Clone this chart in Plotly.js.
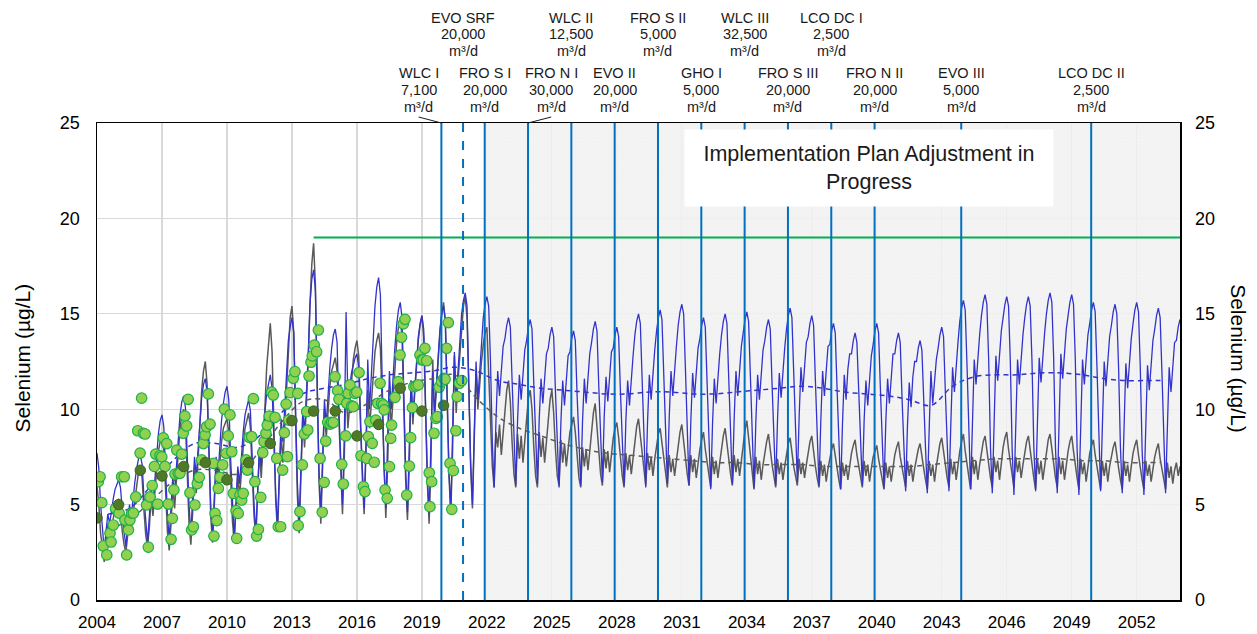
<!DOCTYPE html>
<html>
<head>
<meta charset="utf-8">
<script src="https://cdn.plot.ly/plotly-3.0.1.min.js"></script>
<style>
html,body{margin:0;padding:0;background:#fff;}
#chart{width:1257px;height:634px;}
</style>
</head>
<body>
<div id="chart"></div>
<script>
// ---------------- DATA ----------------
// Implementation plan milestones
const implNames = ['WLC I','EVO SRF','FRO S I','FRO N I','WLC II','EVO II','FRO S II','GHO I','WLC III','FRO S III','LCO DC I','FRO N II','EVO III','LCO DC II'];
const implFlows = ['7,100','20,000','20,000','30,000','12,500','20,000','5,000','5,000','32,500','20,000','2,500','20,000','5,000','2,500'];
const implYears = [2019.9, 2020.9, 2021.9, 2023.9, 2025.9, 2027.9, 2029.9, 2031.9, 2033.9, 2035.9, 2037.9, 2039.9, 2043.9, 2049.9];
const implUnit = 'm³/d';

const xTickVals = [2004,2007,2010,2013,2016,2019,2022,2025,2028,2031,2034,2037,2040,2043,2046,2049,2052];
const xTickText = ['2004','2007','2010','2013','2016','2019','2022','2025','2028','2031','2034','2037','2040','2043','2046','2049','2052'];
const yTickVals = [0,5,10,15,20,25];

// Benchmark line
const targetX = [2014, 2054];
const targetY = [19, 19];

// Monthly modelled series, starting Jan 2004 (one value per month)
const blueMonthly = [
7.7,6.9,5.0,3.8,2.6,3.6,4.5,4.0,4.8,5.3,5.8,6.1,
6.3,5.9,4.6,3.6,2.8,4.0,5.0,4.4,5.4,6.2,6.9,7.4,
7.6,7.1,5.4,4.0,3.0,4.4,5.8,5.0,6.3,7.6,8.7,9.4,
9.7,9.1,6.6,4.5,3.2,4.8,6.5,5.6,7.0,8.5,9.7,10.4,
10.7,10.1,7.4,5.0,3.4,5.4,7.5,6.5,8.0,9.5,10.6,11.3,
11.6,10.9,7.9,5.0,3.3,5.4,7.5,6.5,8.0,9.4,10.3,10.9,
11.2,10.5,7.5,4.8,3.2,5.1,7.0,6.1,7.5,8.8,9.7,10.2,
10.5,9.9,7.2,5.0,3.5,5.8,8.0,7.0,8.5,9.8,10.8,11.4,
11.8,11.1,8.2,5.6,3.8,6.6,9.5,8.3,10.0,11.8,13.6,14.3,
14.8,14.0,10.0,6.2,4.0,7.0,10.0,8.8,10.6,12.8,15.5,16.8,
17.3,16.2,11.5,6.8,4.5,7.5,10.5,9.2,11.0,12.2,13.2,13.9,
14.2,13.5,10.0,7.0,5.0,8.5,15.1,10.5,11.2,11.9,12.3,12.7,
12.9,12.2,9.0,6.5,4.8,8.0,12.6,10.0,11.8,13.6,15.4,16.4,
16.9,16.0,11.5,7.0,4.8,8.0,12.0,10.0,11.8,13.2,14.4,15.2,
15.6,14.8,10.8,6.8,4.6,7.6,11.5,9.6,11.2,12.6,13.8,14.5,
14.9,14.2,10.5,6.6,4.5,7.8,12.0,9.8,11.5,13.0,14.2,15.0,
15.4,14.7,10.8,6.8,4.6,8.2,13.0,10.5,12.2,13.6,15.0,15.7,
16.1,15.4,11.5,7.2,5.0,8.4,12.5,10.5,12.0,13.4,14.8,15.5,
15.9,15.4,12.5,8.3,5.9,9.3,12.0,10.7,12.3,13.3,13.7,14.4,
14.8,14.3,11.4,8.4,6.0,9.4,11.8,10.5,12.1,13.1,13.6,14.3,
14.7,14.2,11.3,8.5,6.1,9.5,11.6,10.3,11.9,12.9,13.2,13.9,
14.3,13.8,10.9,8.3,5.9,9.3,11.5,10.2,11.8,12.8,13.0,13.7,
14.1,13.6,10.7,8.4,6.0,9.4,11.6,10.3,11.9,12.9,13.5,14.2,
14.6,14.1,11.2,8.6,6.2,9.6,11.7,10.4,12.0,13.0,13.2,13.9,
14.3,13.8,10.9,8.4,6.0,9.4,11.5,10.2,11.8,12.8,13.9,14.6,
15.0,14.5,11.6,8.3,5.9,9.3,11.8,10.5,12.1,13.1,14.1,14.8,
15.2,14.7,11.8,8.5,6.1,9.5,12.0,10.7,12.3,13.3,14.4,15.1,
15.5,15.0,12.1,8.4,6.0,9.4,11.9,10.6,12.2,13.2,13.7,14.4,
14.8,14.3,11.4,8.2,5.8,9.2,11.6,10.3,11.9,12.9,13.9,14.6,
15.0,14.5,11.6,8.5,6.1,9.5,12.0,10.7,12.3,13.3,14.0,14.7,
15.1,14.6,11.7,8.3,5.9,9.3,11.8,10.5,12.1,13.1,13.6,14.3,
14.7,14.2,11.3,8.4,6.0,9.4,11.9,10.6,12.2,13.2,14.2,14.9,
15.3,14.8,11.9,8.6,6.2,9.6,12.2,10.9,12.5,13.5,13.8,14.5,
14.9,14.4,11.5,8.4,6.0,9.4,12.0,10.7,12.3,13.3,13.4,14.1,
14.5,14.0,11.1,8.2,5.8,9.2,11.8,10.5,12.1,12.9,12.9,13.6,
14.0,13.5,10.6,8.4,6.0,9.4,11.5,10.2,11.8,12.8,13.4,14.1,
14.5,14.0,11.1,8.3,5.9,9.3,11.6,10.3,11.9,12.9,12.9,13.6,
14.0,13.5,10.6,8.1,5.7,9.1,11.4,10.1,11.7,12.5,12.5,13.2,
13.6,13.1,10.2,8.0,5.6,9.0,12.0,10.3,11.5,12.6,13.2,13.9,
14.3,13.8,10.9,8.1,5.7,9.1,12.2,10.9,12.5,13.5,14.6,15.3,
15.7,15.2,12.3,8.2,5.8,9.2,12.6,11.3,12.9,13.9,14.9,15.6,
16.0,15.5,12.6,8.0,5.6,9.0,12.8,11.5,13.1,14.1,14.8,15.5,
15.9,15.4,12.5,7.9,5.5,8.9,12.6,11.3,12.9,13.9,14.8,15.5,
15.9,15.4,12.5,8.1,5.7,9.1,12.7,11.4,13.0,14.0,15.0,15.7,
16.1,15.6,12.7,8.0,5.6,9.0,12.9,11.6,13.2,14.2,14.9,15.6,
16.0,15.5,12.6,7.9,5.5,8.9,12.6,11.3,12.9,13.9,14.5,15.2,
15.6,15.1,12.2,8.1,5.7,9.1,12.5,11.2,12.8,13.8,14.4,15.1,
15.5,15.0,12.1,8.0,5.6,9.0,12.4,11.1,12.7,13.7,14.5,15.2,
15.6,15.1,12.2,7.9,5.5,8.9,12.3,11.0,12.6,13.6,14.2,14.9,
15.3,14.8,11.9,8.0,5.6,9.0,12.2,10.9,12.5,13.5,13.6,14.3,
14.7
];

const grayMonthly = [
6.0,5.0,3.5,2.6,2.0,2.8,4.0,3.2,3.8,4.3,4.8,5.1,
5.3,4.8,3.6,2.9,2.5,3.4,4.6,3.8,4.6,5.4,6.2,6.7,
7.0,6.4,4.7,3.4,2.8,3.8,5.4,4.4,5.6,6.8,7.8,8.3,
8.5,7.9,5.6,3.6,2.6,4.0,6.0,4.8,6.3,7.7,9.0,9.7,
10.0,9.3,6.4,4.0,2.9,4.6,7.0,5.6,7.4,9.2,11.0,12.0,
12.5,11.3,7.5,4.4,3.0,4.8,7.0,5.8,7.2,8.3,9.0,9.3,
9.5,8.8,6.2,4.2,3.0,4.6,6.6,5.4,6.8,8.0,9.0,9.5,
9.8,9.0,6.5,4.4,3.3,5.2,7.8,6.4,8.0,10.0,12.2,13.6,
14.5,13.0,8.5,5.2,3.6,6.0,8.8,7.2,9.2,11.5,13.5,14.8,
15.4,14.0,9.5,5.5,3.5,6.2,9.5,8.0,10.0,12.5,15.5,17.6,
18.7,16.5,11.0,6.2,4.0,7.0,10.0,8.5,10.0,11.2,12.0,12.4,
12.7,12.0,9.2,6.5,4.5,7.5,11.5,9.0,10.2,11.5,12.6,13.2,
13.6,12.8,9.5,6.4,4.5,7.2,11.0,9.0,10.5,11.8,13.0,13.6,
14.0,13.2,9.8,6.5,4.3,7.0,11.0,9.0,10.6,12.0,13.5,14.3,
14.8,13.8,10.0,6.3,4.2,7.0,11.5,9.2,10.8,12.3,13.6,14.4,
14.9,13.8,10.0,6.2,4.0,7.2,12.6,9.5,11.0,12.6,14.0,15.0,
15.6,14.5,10.5,6.5,4.5,7.8,12.8,9.8,11.5,13.0,14.5,15.4,
15.9,14.8,11.0,7.0,4.8,8.0,12.0,10.0,11.4,12.5,13.4,14.0,
14.3,12.0,9.0,7.0,5.9,8.8,8.0,9.2,7.6,8.6,10.0,11.0,
11.5,10.4,8.2,6.6,5.9,8.7,7.4,8.6,7.2,8.2,9.6,10.6,
11.0,10.0,8.0,6.5,5.9,8.8,7.5,8.5,7.2,8.3,9.6,10.5,
11.0,9.8,7.9,6.5,6.0,8.4,7.2,8.2,7.0,8.0,8.8,9.2,
9.6,8.8,7.6,6.4,5.9,8.0,7.0,7.9,6.8,7.8,9.0,9.8,
10.3,9.2,7.8,6.6,6.0,7.9,6.9,7.8,6.7,7.7,8.5,9.0,
9.3,8.5,7.4,6.5,5.9,7.7,6.8,7.6,6.6,7.5,8.4,9.1,
9.5,8.6,7.5,6.6,6.0,7.7,6.8,7.5,6.5,7.4,8.2,8.7,
9.0,8.2,7.3,6.5,5.9,7.6,6.7,7.4,6.5,7.3,8.2,8.8,
9.2,8.3,7.4,6.6,6.0,7.6,6.7,7.4,6.4,7.2,7.9,8.4,
8.8,7.9,7.2,6.5,5.9,7.5,6.6,7.3,6.4,7.2,8.0,8.6,
9.0,8.1,7.3,6.6,6.0,7.6,6.7,7.4,6.5,7.3,8.2,8.9,
9.4,8.4,7.4,6.4,5.8,7.5,6.6,7.3,6.3,7.1,7.8,8.3,
8.7,7.8,7.1,6.5,5.9,7.4,6.6,7.2,6.3,7.0,7.7,8.2,
8.5,7.7,7.0,6.5,6.0,7.4,6.6,7.2,6.4,7.1,7.8,8.3,
8.6,7.7,7.0,6.4,5.9,7.3,6.5,7.1,6.2,6.9,7.5,7.9,
8.2,7.5,6.9,6.3,5.8,7.2,6.5,7.1,6.3,7.0,7.7,8.1,
8.4,7.6,7.0,6.4,5.9,7.3,6.5,7.1,6.2,6.9,7.5,7.8,
8.1,7.4,6.8,6.3,5.8,7.2,6.4,7.0,6.2,6.9,7.6,8.0,
8.3,7.5,6.9,6.4,5.9,7.3,6.5,7.1,6.2,6.9,7.5,7.9,
8.2,7.4,6.9,6.3,5.8,7.3,6.5,7.1,6.2,7.0,7.7,8.2,
8.5,7.7,7.0,6.4,5.9,7.4,6.6,7.2,6.3,7.1,7.8,8.3,
8.7,7.8,7.1,6.4,5.8,7.5,6.6,7.3,6.3,7.1,7.8,8.3,
8.6,7.8,7.1,6.4,5.9,7.5,6.7,7.3,6.3,7.2,8.0,8.5,
8.8,7.9,7.2,6.5,5.9,7.5,6.7,7.3,6.4,7.1,7.8,8.3,
8.6,7.8,7.1,6.4,5.8,7.4,6.6,7.3,6.3,7.1,7.9,8.4,
8.7,7.9,7.1,6.4,5.9,7.5,6.6,7.3,6.3,7.1,7.8,8.3,
8.6,7.8,7.0,6.4,5.8,7.4,6.6,7.2,6.2,7.0,7.7,8.1,
8.4,7.6,7.0,6.3,5.8,7.3,6.5,7.2,6.2,7.0,7.6,8.0,
8.3,7.5,6.9,6.3,5.8,7.3,6.5,7.1,6.2,7.0,7.7,8.1,
8.4,7.6,6.9,6.3,5.8,7.3,6.5,7.1,6.2,6.9,7.5,7.9,
8.2,7.4,6.8,6.2,5.8,7.2,6.4,7.0,6.1,6.8,7.2,6.5,
7.0
];

// Annual averages (dashed)
const avgYears = [2004.5,2005.5,2006.5,2007.5,2008.5,2009.5,2010.5,2011.5,2012.5,2013.5,2014.5,2015.5,2016.5,2017.5,2018.5,2019.5,2020.5,2021.5,2022.5,2023.5,2024.5,2025.5,2026.5,2027.5,2028.5,2029.5,2030.5,2031.5,2032.5,2033.5,2034.5,2035.5,2036.5,2037.5,2038.5,2039.5,2040.5,2041.5,2042.5,2043.5,2044.5,2045.5,2046.5,2047.5,2048.5,2049.5,2050.5,2051.5,2052.5,2053.1];
const blueAvg = [4.5,4.8,6.0,7.3,8.2,8.2,8.0,8.6,9.8,10.8,11.1,11.3,11.6,11.8,11.9,12.0,12.2,12.0,11.5,11.3,11.1,11.0,10.9,10.8,10.8,10.9,10.9,10.8,10.8,10.9,11.0,11.1,11.2,11.1,10.9,10.8,10.7,10.5,10.2,11.2,11.7,11.8,11.8,11.9,11.9,11.8,11.6,11.5,11.5,11.5];
const grayAvg = [3.7,4.2,5.2,6.2,6.8,6.8,6.6,7.8,9.3,10.4,10.5,9.8,10.3,11.0,11.4,11.6,11.8,10.6,9.6,9.0,8.6,8.2,7.9,7.7,7.6,7.5,7.4,7.3,7.2,7.2,7.1,7.1,7.1,7.0,7.0,7.0,7.0,7.0,7.1,7.2,7.3,7.4,7.4,7.4,7.4,7.3,7.3,7.2,7.2,7.2];

// Observed monthly samples
const obsX = [2004.06,2004.14,2004.22,2004.29,2004.45,2004.6,2004.65,2004.75,2004.86,2005.02,2005.14,2005.26,2005.29,2005.37,2005.45,2005.52,2005.6,2005.68,2005.79,2005.88,2005.99,2006.06,2006.14,2006.22,2006.29,2006.37,2006.45,2006.55,2006.65,2006.71,2006.8,2006.91,2006.99,2007.06,2007.14,2007.22,2007.29,2007.42,2007.48,2007.55,2007.6,2007.68,2007.75,2007.83,2007.91,2007.98,2008.06,2008.14,2008.21,2008.29,2008.37,2008.45,2008.52,2008.63,2008.72,2008.83,2008.91,2008.99,2009.06,2009.14,2009.22,2009.37,2009.4,2009.45,2009.53,2009.6,2009.68,2009.8,2009.88,2009.96,2010.06,2010.14,2010.22,2010.29,2010.42,2010.45,2010.52,2010.6,2010.68,2010.75,2010.88,2010.94,2011.03,2011.14,2011.22,2011.29,2011.37,2011.45,2011.56,2011.65,2011.71,2011.8,2011.86,2011.95,2012.06,2012.14,2012.22,2012.3,2012.37,2012.48,2012.57,2012.65,2012.73,2012.79,2012.85,2012.91,2013.06,2013.14,2013.27,2013.29,2013.37,2013.48,2013.57,2013.68,2013.73,2013.79,2013.88,2013.94,2014.03,2014.14,2014.22,2014.3,2014.4,2014.49,2014.56,2014.65,2014.76,2014.83,2014.91,2014.99,2015.11,2015.17,2015.3,2015.37,2015.48,2015.53,2015.6,2015.68,2015.76,2015.83,2015.91,2015.99,2016.1,2016.19,2016.3,2016.37,2016.45,2016.53,2016.6,2016.71,2016.8,2016.87,2016.96,2017.07,2017.14,2017.22,2017.26,2017.3,2017.4,2017.5,2017.56,2017.6,2017.76,2017.91,2017.99,2018.06,2018.14,2018.22,2018.3,2018.42,2018.48,2018.56,2018.63,2018.73,2018.83,2018.91,2018.99,2019.06,2019.14,2019.22,2019.34,2019.37,2019.45,2019.56,2019.65,2019.71,2019.8,2019.91,2020.02,2020.07,2020.14,2020.22,2020.3,2020.38,2020.45,2020.57,2020.63,2020.73,2020.84];
const obsY = [6.2,6.46,5.1,2.83,2.36,3.5,3.04,3.93,4.8,4.55,6.46,6.46,4.19,2.36,3.67,4.19,4.55,4.55,5.4,8.87,7.7,10.58,8.74,8.7,4.98,2.77,5.4,6.0,7.0,7.65,5.03,7.56,7.5,8.5,7.0,8.2,5.03,3.18,4.28,5.77,6.6,7.86,6.64,6.64,7.65,8.74,9.64,9.12,10.52,5.62,3.67,3.84,4.98,6.1,6.43,7.34,8.2,8.65,9.08,10.8,9.22,7.16,3.35,4.54,4.16,5.85,6.43,7.08,10.0,7.69,8.6,9.7,7.77,5.59,4.68,3.23,4.54,5.5,5.24,5.59,7.34,6.81,8.53,8.56,10.55,6.2,3.35,3.7,5.38,7.72,8.3,8.74,9.17,9.64,10.89,10.74,9.57,7.42,3.84,3.84,6.81,8.77,10.27,7.51,9.43,10.87,11.62,11.97,10.83,3.9,4.63,7.08,8.7,9.87,8.91,11.74,12.46,12.79,13.36,13.01,14.15,7.42,4.6,6.17,8.33,9.31,9.22,9.31,9.3,11.7,10.97,10.52,7.11,6.08,8.6,10.31,10.83,11.27,10.17,10.13,10.83,10.89,11.92,7.56,5.94,5.68,7.42,8.56,9.35,8.21,7.22,9.43,10.31,11.36,10.31,10.22,9.96,5.77,5.33,6.99,8.47,9.17,10.62,11.44,12.84,13.77,14.47,14.71,5.5,7.02,8.51,10.08,11.18,11.22,11.27,12.84,12.58,12.58,13.19,12.54,6.67,4.89,6.2,8.74,9.52,9.61,11.15,11.44,11.62,11.57,13.19,14.54,7.16,4.75,6.78,8.87,10.66,11.36,11.5];

// Observed annual averages
const annX = [2004,2005,2006,2007,2008,2009,2010,2011,2012,2013,2014,2015,2016,2017,2018,2019,2020];
const annY = [4.3,5.0,6.8,6.5,7.0,7.2,6.3,7.2,8.2,9.4,9.9,9.9,8.6,9.2,11.1,9.9,10.2];

// ---------------- BUILD ----------------
const X0 = 2004, X1 = 2054, YMAX = 25;
function monthX(arr){ return arr.map((v,i)=>X0 + i/12); }
const FONT = 'Liberation Sans, Arial, sans-serif';

// shaded "adjustment in progress" region, starting at the FRO S I milestone
const shadeStart = implYears[2];

const traces = [
  {x:[(shadeStart + X1)/2], y:[YMAX], width:[X1 - shadeStart], type:'bar', opacity:0.85,
    marker:{color:'#f2f2f2', line:{width:0},
      pattern:{shape:'+', fgcolor:'#d6d6d6', size:3.4, solidity:0.12, fillmode:'overlay'}}, hoverinfo:'skip'},
  {x: monthX(grayMonthly), y: grayMonthly, type:'scatter', mode:'lines', line:{color:'#5a5a5a', width:1.5}, hoverinfo:'skip'},
  {x: monthX(blueMonthly), y: blueMonthly, type:'scatter', mode:'lines', line:{color:'#3333cc', width:1.3}, hoverinfo:'skip'},
  {x: avgYears, y: grayAvg, type:'scatter', mode:'lines', line:{color:'#5a5a5a', width:1.5, dash:'5px,4px', shape:'spline'}},
  {x: avgYears, y: blueAvg, type:'scatter', mode:'lines', line:{color:'#3333cc', width:1.5, dash:'5px,4px', shape:'spline'}},
  {x: obsX, y: obsY, type:'scatter', mode:'markers', marker:{size:10.5, color:'#92d050', line:{color:'#1fb04a', width:1.2}}},
  {x: annX, y: annY, type:'scatter', mode:'markers', marker:{size:10.5, color:'#4e7a28', line:{color:'#3e6320', width:1}}},
  {x: targetX, y: targetY, type:'scatter', mode:'lines', line:{color:'#00b050', width:2.2}, yaxis:'y2'}
];

const shapes = [];
implYears.forEach((yr,i)=>{
  shapes.push({type:'line', xref:'x', yref:'paper', x0:yr, x1:yr, y0:0, y1:1,
    line:{color:'#0070c0', width:2, dash: implNames[i]==='EVO SRF' ? 'dash' : 'solid'}, layer:'above'});
});

// label layout
const plotTop = 123, plotBot = 600, plotH = plotBot - plotTop;
function py(pix){ return (plotBot - pix)/plotH; }
function pxp(yr){ return (yr - X0)/(X1 - X0); }
const upperRow = ['EVO SRF','WLC II','FRO S II','WLC III','LCO DC I'];
const labelShift = {'WLC I': -1.05, 'FRO N I': 1.07};
const annotations = [];
implNames.forEach((nm,i)=>{
  const up = upperRow.indexOf(nm) >= 0;
  const lines = [nm, implFlows[i], implUnit];
  const ys = up ? [18, 34.5, 51] : [73.5, 90, 107];
  const xc = implYears[i] + (labelShift[nm] || 0);
  lines.forEach((t,k)=>{
    annotations.push({text:t, xref:'x', yref:'paper', x:xc, y:py(ys[k]), showarrow:false,
      xanchor:'center', yanchor:'middle', font:{family:FONT, size:14.5, color:'#1a1a1a'}});
  });
  if (labelShift[nm]) {
    shapes.push({type:'line', xref:'paper', yref:'paper',
      x0: pxp(xc), y0: py(117), x1: pxp(implYears[i]), y1: py(123),
      line:{color:'#1a1a1a', width:1}});
  }
});

// Box
annotations.push({text:'Implementation Plan Adjustment in<br>Progress', xref:'x', yref:'y', x:2039.64, y:22.62,
  showarrow:false, bgcolor:'#ffffff', width:364, height:72, borderpad:2,
  font:{family:FONT, size:21.5, color:'#1a1a1a'}});

// axis titles
annotations.push({text:'Selenium (µg/L)', xref:'paper', yref:'paper', x:-0.069, y:0.507, textangle:-90,
  showarrow:false, font:{family:FONT, size:21, color:'#000'}, xanchor:'center', yanchor:'middle'});
annotations.push({text:'Selenium (µg/L)', xref:'paper', yref:'paper', x:1.0545, y:0.507, textangle:90,
  showarrow:false, font:{family:FONT, size:21, color:'#000'}, xanchor:'center', yanchor:'middle'});

const layout = {
  width:1257, height:634,
  margin:{l:97, r:77, t:123, b:34, pad:0},
  paper_bgcolor:'#ffffff', plot_bgcolor:'#ffffff',
  showlegend:false,
  font:{family:FONT, color:'#000'},
  xaxis:{range:[X0, X1], tickmode:'array', tickvals:xTickVals, ticktext:xTickText,
    showgrid:true, gridcolor:'#d9d9d9', gridwidth:1.2, zeroline:false,
    showline:true, linecolor:'#000', linewidth:1.5, mirror:true, ticks:'',
    ticklabelstandoff:6, tickfont:{family:FONT, size:17, color:'#000'}},
  yaxis:{range:[0,YMAX], tickmode:'array', tickvals:yTickVals,
    showgrid:true, gridcolor:'#d9d9d9', gridwidth:1.2, zeroline:false,
    showline:true, linecolor:'#000', linewidth:1.5, mirror:true, ticks:'',
    ticklabelstandoff:12, tickfont:{family:FONT, size:18, color:'#000'}},
  yaxis2:{range:[0,YMAX], overlaying:'y', side:'right', tickmode:'array', tickvals:yTickVals,
    showgrid:false, zeroline:false, showline:false, ticks:'',
    ticklabelstandoff:14, tickfont:{family:FONT, size:18, color:'#000'}},
  bargap:0,
  shapes:shapes,
  annotations:annotations
};

Plotly.newPlot('chart', traces, layout, {staticPlot:true, displayModeBar:false});
</script>
</body>
</html>
